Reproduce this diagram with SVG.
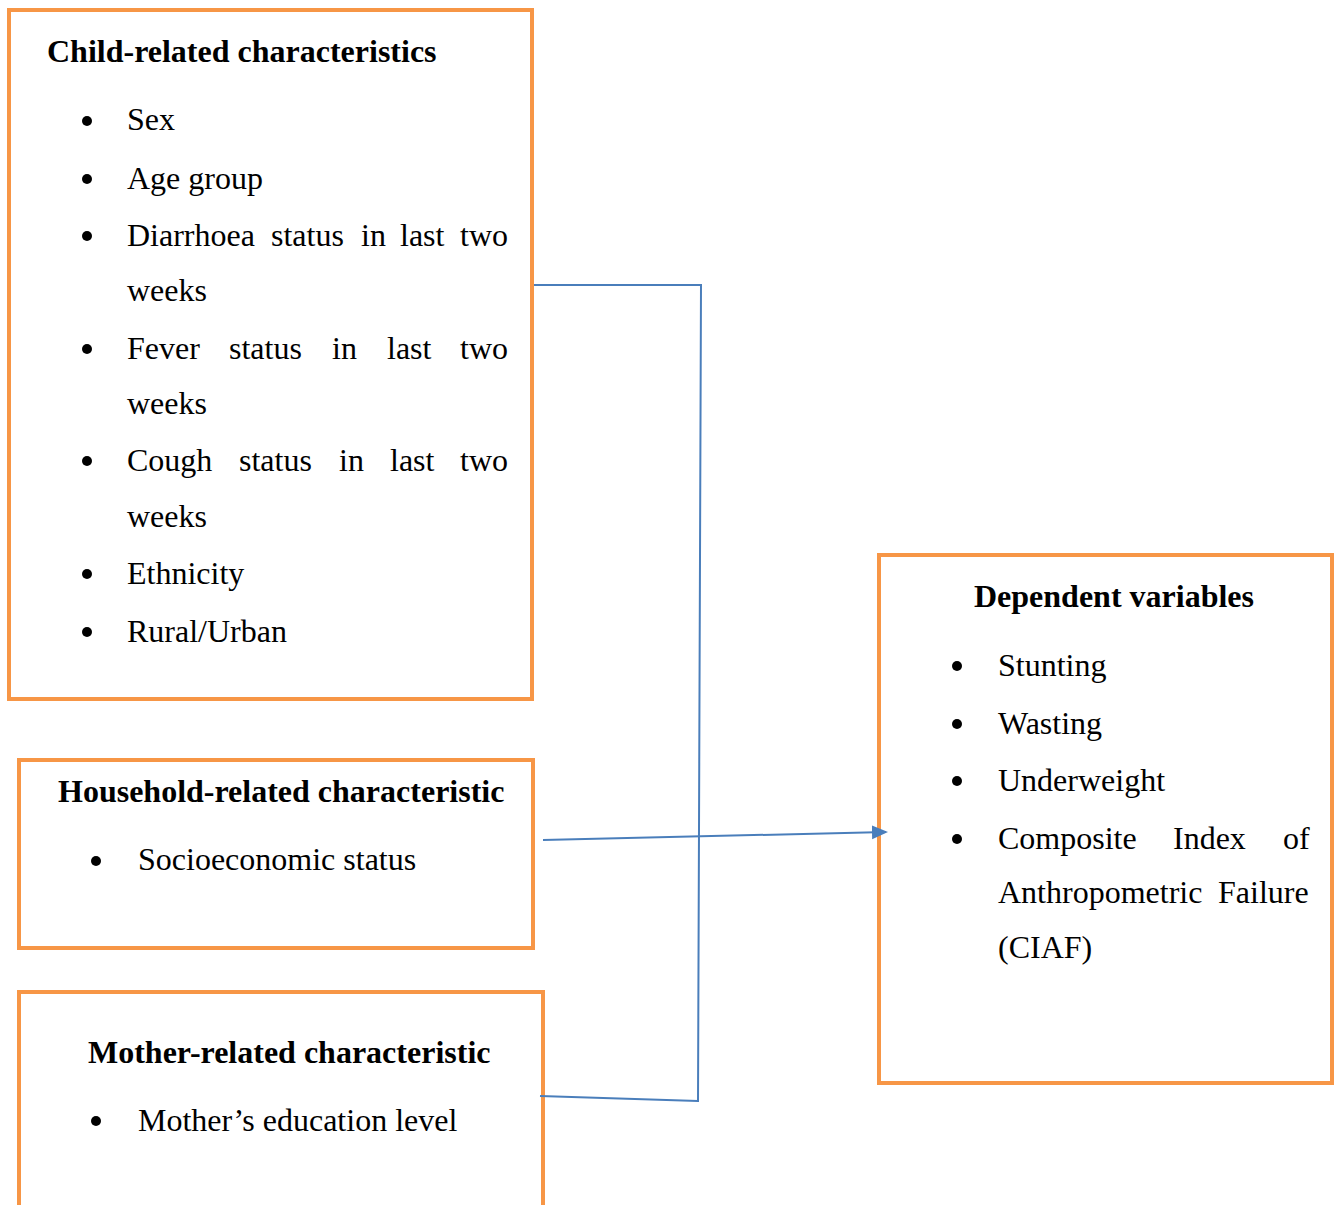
<svg xmlns="http://www.w3.org/2000/svg" width="1339" height="1205" viewBox="0 0 1339 1205">
<defs>
<style>
.box{fill:#fff;stroke:#F79646;stroke-width:4}
.t{font-family:"Liberation Serif","Times New Roman",serif;font-size:32px;fill:#000}
.b{font-weight:bold}
.conn{stroke:#4A7EBB;stroke-width:2;fill:none}
</style>
<marker id="arr" markerWidth="16" markerHeight="16" refX="14" refY="7" orient="auto" markerUnits="userSpaceOnUse" viewBox="0 0 16 14">
<path d="M0,0 L16,7 L0,14 z" fill="#4A7EBB"/>
</marker>
</defs>
<rect width="1339" height="1205" fill="#fff"/>
<g id="child">
<rect class="box" x="9" y="10" width="523" height="689"/>
<text class="t b" x="47" y="62">Child-related characteristics</text>
<g fill="#000">
<circle cx="87" cy="121" r="5"/><circle cx="87" cy="179" r="5"/><circle cx="87" cy="236" r="5"/><circle cx="87" cy="349" r="5"/><circle cx="87" cy="461" r="5"/><circle cx="87" cy="574" r="5"/><circle cx="87" cy="632" r="5"/>
</g>
<text class="t" x="127" y="130">Sex</text>
<text class="t" x="127" y="189">Age group</text>
<text class="t" y="246"><tspan x="127">Diarrhoea</tspan><tspan x="271">status</tspan><tspan x="361">in</tspan><tspan x="400">last</tspan><tspan x="460">two</tspan></text>
<text class="t" x="127" y="301">weeks</text>
<text class="t" y="359"><tspan x="127">Fever</tspan><tspan x="229">status</tspan><tspan x="332">in</tspan><tspan x="387">last</tspan><tspan x="460">two</tspan></text>
<text class="t" x="127" y="414">weeks</text>
<text class="t" y="471"><tspan x="127">Cough</tspan><tspan x="239">status</tspan><tspan x="339">in</tspan><tspan x="390">last</tspan><tspan x="460">two</tspan></text>
<text class="t" x="127" y="527">weeks</text>
<text class="t" x="127" y="584">Ethnicity</text>
<text class="t" x="127" y="642">Rural/Urban</text>
</g>
<g id="household">
<rect class="box" x="19" y="760" width="514" height="188"/>
<text class="t b" x="58" y="802">Household-related characteristic</text>
<circle cx="96" cy="861" r="5" fill="#000"/>
<text class="t" x="138" y="870">Socioeconomic status</text>
</g>
<g id="mother">
<path class="box" d="M19,1210 L19,992 L543,992 L543,1210"/>
<text class="t b" x="88" y="1063">Mother-related characteristic</text>
<circle cx="96" cy="1121" r="5" fill="#000"/>
<text class="t" x="138" y="1131">Mother’s education level</text>
</g>
<g id="dependent">
<rect class="box" x="879" y="555" width="453" height="528"/>
<text class="t b" x="974" y="607">Dependent variables</text>
<g fill="#000">
<circle cx="957" cy="666" r="5"/><circle cx="957" cy="724" r="5"/><circle cx="957" cy="781" r="5"/><circle cx="957" cy="839" r="5"/>
</g>
<text class="t" x="998" y="676">Stunting</text>
<text class="t" x="998" y="734">Wasting</text>
<text class="t" x="998" y="791">Underweight</text>
<text class="t" y="849"><tspan x="998">Composite</tspan><tspan x="1173">Index</tspan><tspan x="1283">of</tspan></text>
<text class="t" y="903"><tspan x="998">Anthropometric</tspan><tspan x="1218">Failure</tspan></text>
<text class="t" x="998" y="958">(CIAF)</text>
</g>
<g id="connectors">
<path class="conn" d="M534,285 L701,285 L698,1102"/>
<path class="conn" d="M540,1096 L698,1101"/>
<path class="conn" d="M543,840 L886,832" marker-end="url(#arr)"/>
</g>
</svg>
